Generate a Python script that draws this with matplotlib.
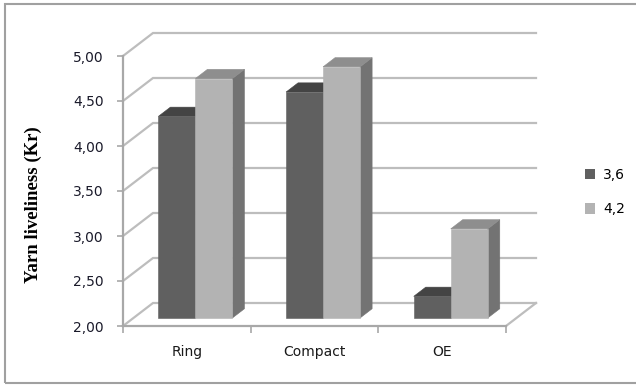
import matplotlib.pyplot as plt
import numpy as np
from matplotlib.patches import Polygon, Rectangle, Patch

# data
categories = ['Ring', 'Compact', 'OE']
series_names = ['3,6', '4,2']
values_36 = [4.24, 4.51, 2.24]
values_42 = [4.66, 4.79, 2.99]
y_ticks = [2.0, 2.5, 3.0, 3.5, 4.0, 4.5, 5.0]

front_colors = ['#606060', '#b3b3b3']
top_colors = ['#444444', '#8e8e8e']
side_colors = ['#505050', '#737373']
grid_color = '#bdbdbd'
axis_color = '#a8a8a8'

fig = plt.figure(figsize=(6.36, 3.85), dpi=100)
ax_w, ax_h = 383, 270  # pixels
ax = fig.add_axes([123 / 636, 59 / 385, ax_w / 636, ax_h / 385])
ax.set_xlim(-0.5, 2.5)
ax.set_ylim(2, 5)

# depth offset of the 3D box (30 px right, 23 px up) in data units
dx = 30 / ax_w * 3
dy = 23 / ax_h * 3


def p(x, v, f):
    return (x + f * dx, v + f * dy)


# back wall and left wall gridlines
for t in y_ticks:
    pts = [p(-0.5, t, 0), p(-0.5, t, 1), p(2.5, t, 1)]
    ax.plot([q[0] for q in pts], [q[1] for q in pts], color=grid_color,
            lw=1.6, clip_on=False, zorder=1, solid_joinstyle='miter')
# right edge of the floor
pts = [p(2.5, 2, 0), p(2.5, 2, 1)]
ax.plot([q[0] for q in pts], [q[1] for q in pts], color=grid_color,
        lw=1.6, clip_on=False, zorder=1)

# bars
bw = 0.29
f0, f1 = 0.35, 0.75
for i in range(len(categories)):
    for j, vals in enumerate([values_36, values_42]):
        v = vals[i]
        x0 = i - 0.015 - bw + j * bw
        x1 = x0 + bw
        side = [p(x1, 2, f0), p(x1, 2, f1), p(x1, v, f1), p(x1, v, f0)]
        top = [p(x0, v, f0), p(x1, v, f0), p(x1, v, f1), p(x0, v, f1)]
        front = [p(x0, 2, f0), p(x1, 2, f0), p(x1, v, f0), p(x0, v, f0)]
        for poly, col in [(side, side_colors[j]), (top, top_colors[j]),
                          (front, front_colors[j])]:
            ax.add_patch(Polygon(poly, closed=True, facecolor=col, edgecolor=col,
                                 lw=0.4, clip_on=False, zorder=3))

# axes styling
for s in ['top', 'right']:
    ax.spines[s].set_visible(False)
for s in ['left', 'bottom']:
    ax.spines[s].set_color(axis_color)
    ax.spines[s].set_linewidth(1.6)
    ax.spines[s].set_zorder(2)

ax.set_yticks(y_ticks, labels=[f'{t:.2f}'.replace('.', ',') for t in y_ticks])
ax.tick_params(axis='y', length=4, width=1.2, color=axis_color, pad=10,
               labelsize=10, labelcolor='#1a1a2a')
ax.set_xticks(range(len(categories)), labels=categories)
ax.set_xticks([-0.5, 0.5, 1.5, 2.5], minor=True)
ax.tick_params(axis='x', which='major', length=0, pad=14, labelsize=10,
               labelcolor='#1a1a1a')
ax.tick_params(axis='x', which='minor', length=5, width=1.2, color=axis_color)
ax.patch.set_visible(False)

fig.text(33 / 636, 1 - 205 / 385, 'Yarn liveliness (Kr)', rotation=90,
         ha='center', va='center', fontsize=13.5, fontweight='bold',
         family='Liberation Serif')

handles = [Patch(facecolor=c, edgecolor='none') for c in front_colors]
fig.legend(handles, series_names, loc='center left',
           bbox_to_anchor=(572 / 636, 1 - 192 / 385), frameon=False,
           handlelength=0.75, handleheight=0.75, handletextpad=0.6,
           labelspacing=1.5, fontsize=10)

# outer chart border
fig.add_artist(Rectangle((5 / 636, 2 / 385), 1.0, 379 / 385, fill=False,
                         edgecolor='#a0a0a0', lw=1.5, transform=fig.transFigure))

fig.savefig('out.png', dpi=100)
